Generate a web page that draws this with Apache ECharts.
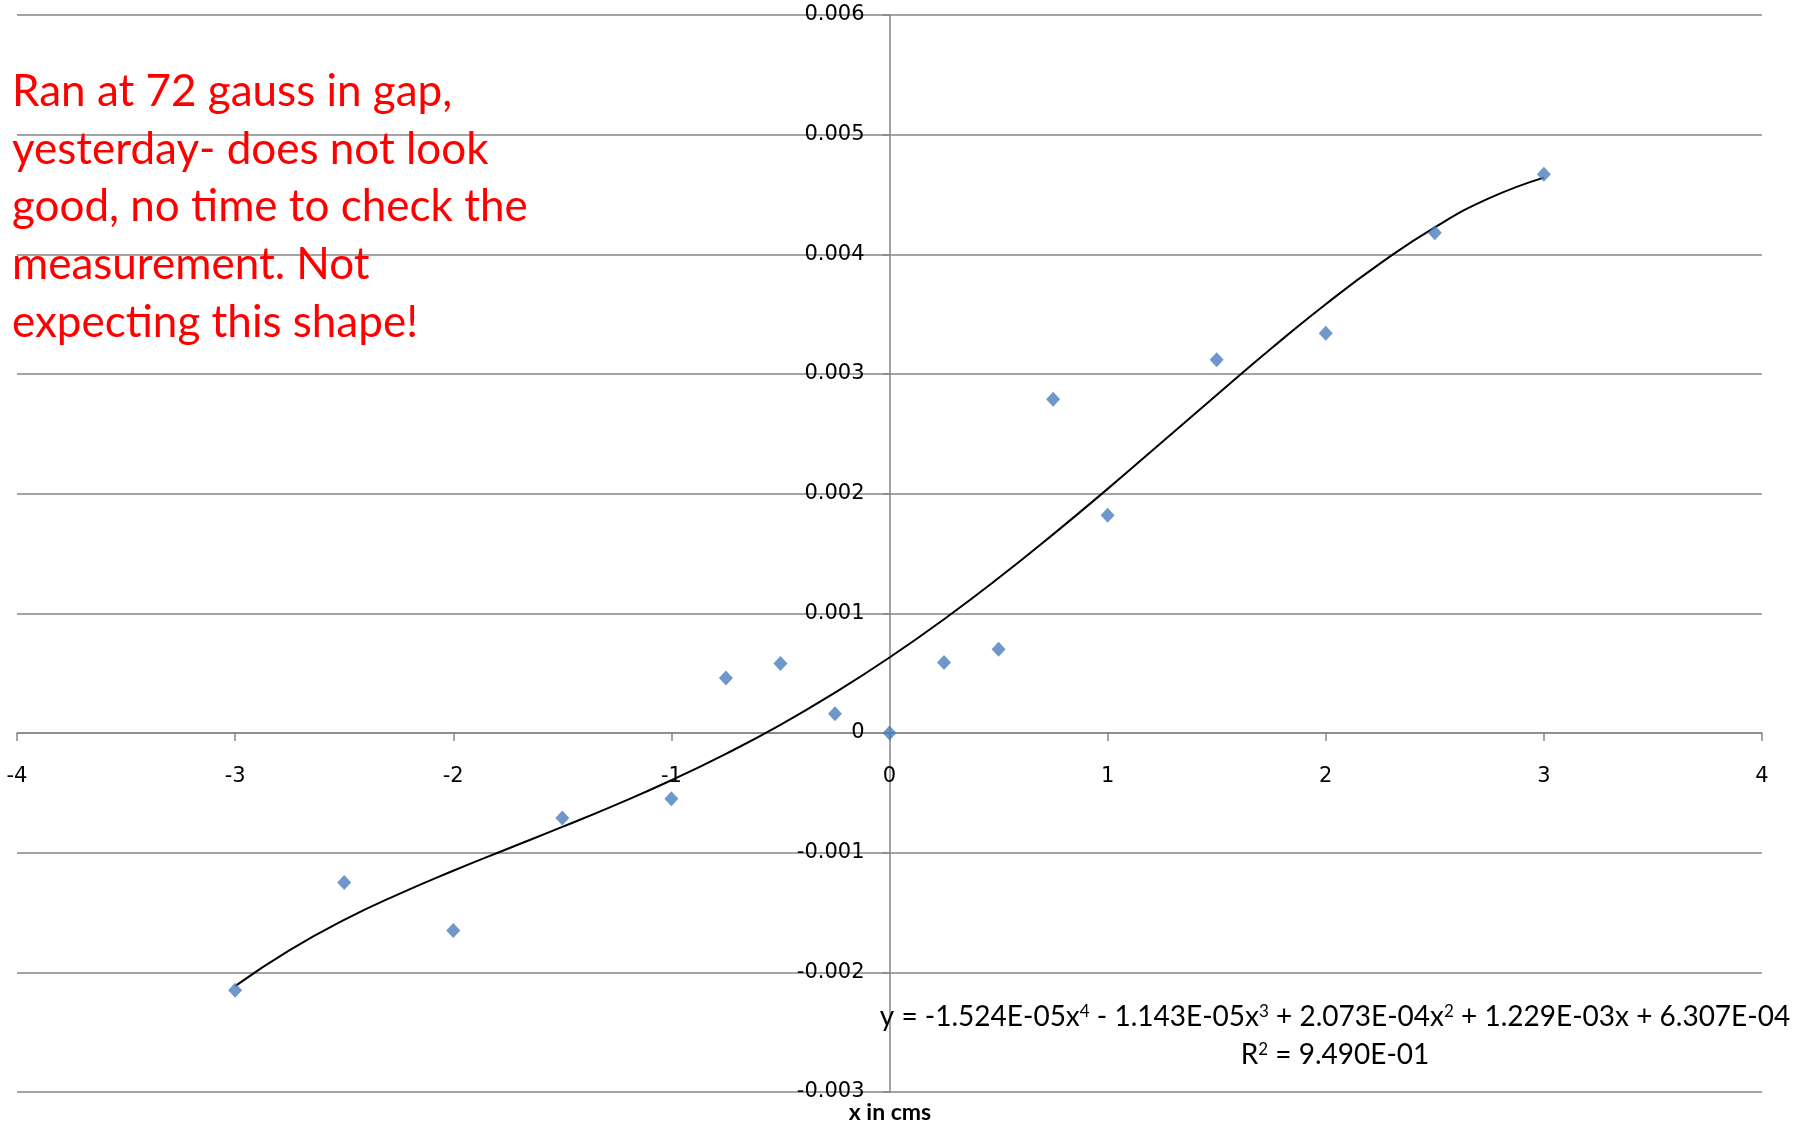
<!DOCTYPE html>
<html>
<head>
<meta charset="utf-8">
<script src="https://cdn.jsdelivr.net/npm/echarts@6/dist/echarts.min.js"></script>
<style>
html,body{margin:0;padding:0;background:#fff;}
#chart{width:1806px;height:1126px;}
</style>
</head>
<body>
<div id="chart"></div>
<script>
// Measured points (x in cms, y)
const xVals = [-3, -2.5, -2, -1.5, -1, -0.75, -0.5, -0.25, 0, 0.25, 0.5, 0.75, 1, 1.5, 2, 2.5, 3];
const yVals = [-0.00215, -0.00125, -0.00165, -0.00071, -0.00055, 0.00046, 0.00058, 0.00016, 0, 0.00059, 0.00070, 0.00279, 0.00182, 0.00312, 0.00334, 0.00418, 0.00467];

// Trendline
const trendX = [-3, -2.75, -2.5, -2.25, -2, -1.75, -1.5, -1.25, -1, -0.75, -0.5, -0.25, 0, 0.25, 0.5, 0.75, 1, 1.25, 1.5, 1.75, 2, 2.25, 2.5, 2.75, 3];
const trendY = [-0.002115, -0.001815, -0.001562, -0.001346, -0.001151, -0.000967, -0.000785, -0.000596, -0.000395, -0.000174, 0.000068, 0.000337, 0.000631, 0.000951, 0.001295, 0.001660, 0.002040, 0.002432, 0.002825, 0.003213, 0.003583, 0.003924, 0.004226, 0.004469, 0.004641];

const noteLines = [
  'Ran at 72 gauss in gap,',
  'yesterday- does not look',
  'good, no time to check the',
  'measurement. Not',
  'expecting this shape!'
];
const equationText = 'y = -1.524E-05x{s|4} - 1.143E-05x{s|3} + 2.073E-04x{s|2} + 1.229E-03x + 6.307E-04';
const r2Text = 'R{s|2} = 9.490E-01';
const xAxisTitle = 'x in cms';

const chart = echarts.init(document.getElementById('chart'), null, {renderer: 'canvas'});

const gridColor = '#868686';
const gridLeft = 17, gridRight = 44, gridTop = 15, gridBottom = 34;
const W = 1806, H = 1126;
const plotW = W - gridLeft - gridRight;
const plotH = H - gridTop - gridBottom;
const xMin = -4, xMax = 4, yMin = -0.003, yMax = 0.006;
// shift axes so they cross at the origin
const yAxisOffset = -plotW * (0 - xMin) / (xMax - xMin);
const xAxisOffset = -plotH * (0 - yMin) / (yMax - yMin);

const noteGraphics = noteLines.map((t, i) => ({
  type: 'text',
  x: 12,
  y: 92 + i * 57.6,
  style: {
    text: t,
    font: '44px Lato',
    fill: '#ff0000',
    textVerticalAlign: 'middle'
  },
  z: 10
}));

chart.setOption({
  animation: false,
  backgroundColor: '#ffffff',
  grid: {left: gridLeft, right: gridRight, top: gridTop, bottom: gridBottom, containLabel: false, outerBoundsMode: 'none'},
  xAxis: {
    type: 'value',
    min: xMin, max: xMax, interval: 1,
    position: 'bottom',
    offset: xAxisOffset,
    axisLine: {onZero: false, lineStyle: {color: gridColor, width: 1.5}},
    axisTick: {show: true, length: 8, lineStyle: {color: gridColor, width: 1.5}},
    axisLabel: {margin: 33, fontSize: 21, color: '#000', fontFamily: 'DejaVu Sans', hideOverlap: false},
    splitLine: {show: false}
  },
  yAxis: {
    type: 'value',
    min: yMin, max: yMax, interval: 0.001,
    position: 'left',
    offset: yAxisOffset,
    axisLine: {show: true, onZero: false, lineStyle: {color: gridColor, width: 1.5}},
    axisTick: {show: true, length: 7, lineStyle: {color: gridColor, width: 1.5}},
    axisLabel: {margin: 25, fontSize: 21, color: '#000', fontFamily: 'DejaVu Sans', hideOverlap: false},
    splitLine: {show: true, lineStyle: {color: gridColor, width: 1.5}}
  },
  series: [
    {
      type: 'line',
      data: trendX.map((x, i) => [x, trendY[i]]),
      smooth: true,
      showSymbol: false,
      lineStyle: {color: '#000', width: 2},
      z: 3
    },
    {
      type: 'scatter',
      data: xVals.map((x, i) => [x, yVals[i]]),
      symbol: 'diamond',
      symbolSize: [14, 15],
      itemStyle: {color: '#4a7ebb'},
      z: 4
    }
  ],
  graphic: [
    ...noteGraphics,
    {
      type: 'text', x: 1335, y: 1017, z: 10,
      style: {
        text: equationText,
        font: '28px Lato', fill: '#000',
        textAlign: 'center', textVerticalAlign: 'middle',
        rich: {s: {fontSize: 17, fontFamily: 'Lato', verticalAlign: 'top', lineHeight: 17}}
      }
    },
    {
      type: 'text', x: 1335, y: 1055, z: 10,
      style: {
        text: r2Text,
        font: '28px Lato', fill: '#000',
        textAlign: 'center', textVerticalAlign: 'middle',
        rich: {s: {fontSize: 17, fontFamily: 'Lato', verticalAlign: 'top', lineHeight: 17}}
      }
    },
    {
      type: 'text', x: 890, y: 1113, z: 10,
      style: {
        text: xAxisTitle,
        font: 'bold 23px Lato', fill: '#000',
        textAlign: 'center', textVerticalAlign: 'middle'
      }
    }
  ]
});
</script>
</body>
</html>
